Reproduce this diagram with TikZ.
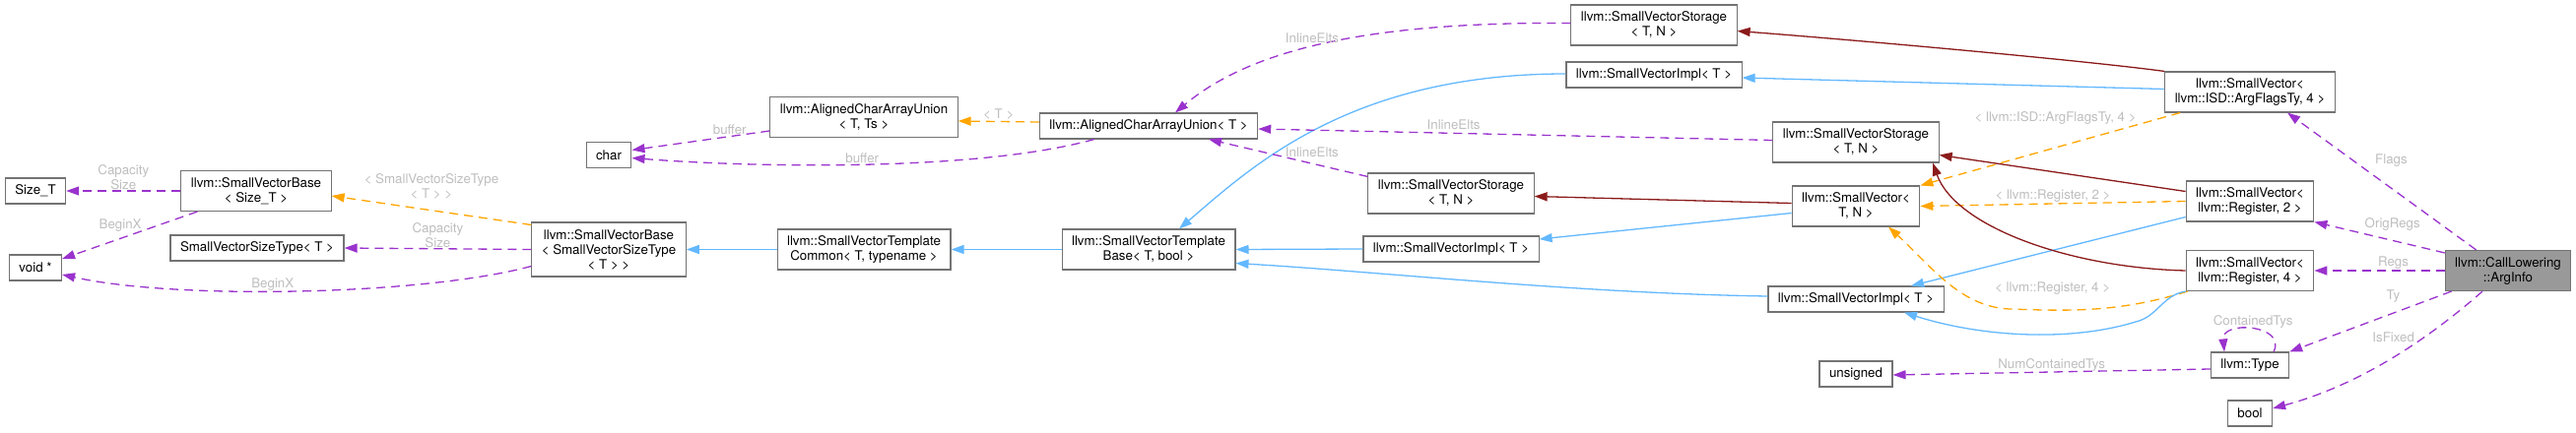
\documentclass[tikz,border=0pt]{standalone}
\usepackage{fontspec}
\setmainfont{TeX Gyre Heros}
\usepackage{tikz}
\usetikzlibrary{arrows.meta, calc}
\definecolor{usagecol}{HTML}{9A32CD}
\definecolor{tmplcol}{HTML}{FFA500}
\definecolor{pubcol}{HTML}{63B8FF}
\definecolor{privcol}{HTML}{8B1A1A}
\definecolor{lblcol}{HTML}{BEBEBE}

\begin{document}
\begin{tikzpicture}[
    x=1pt, y=-1pt, font=\fontsize{13.3pt}{15pt}\selectfont,
    cls/.style={draw=black!55, line width=1.1pt, fill=white, align=center, inner xsep=10pt, inner ysep=3pt, minimum height=26pt},
    tall2/.style={minimum height=41pt},
    tall3/.style={minimum height=55pt},
    usage/.style={->, usagecol, line width=1.3pt, dash pattern=on 9pt off 6pt},
    tmpl/.style={->, tmplcol, line width=1.3pt, dash pattern=on 9pt off 6pt},
    pubinh/.style={->, pubcol, line width=1.3pt},
    privinh/.style={->, privcol, line width=1.3pt},
    lbl/.style={text=lblcol, align=center, inner sep=1pt},
    >={Triangle[length=13pt, width=9pt]}]
\useasboundingbox (0,0) rectangle (2615,439);
% left part
\node[cls] (sizeT) at (36,194) {Size\_T};
\node[cls] (voidp) at (36,272) {void *};
\node[cls, tall2] (svbSize) at (260,194) {llvm::SmallVectorBase\\< Size\_T >};
\node[cls] (svsType) at (261,252) {SmallVectorSizeType< T >};
\node[cls, tall3] (svbSType) at (618,253.5) {llvm::SmallVectorBase\\< SmallVectorSizeType\\< T > >};
\node[cls] (chr) at (618,157.5) {char};
\node[cls, tall2] (acauTs) at (877,119) {llvm::AlignedCharArrayUnion\\< T, Ts >};
\node[cls, tall2] (svtCommon) at (877,253.5) {llvm::SmallVectorTemplate\\Common< T, typename >};
\node[cls] (acau) at (1166,128) {llvm::AlignedCharArrayUnion< T >};
\node[cls, tall2] (svtBase) at (1166,253.5) {llvm::SmallVectorTemplate\\Base< T, bool >};
% middle part
\node[cls, tall2] (svsMid) at (1473,196.5) {llvm::SmallVectorStorage\\< T, N >};
\node[cls] (sviMid) at (1473,253) {llvm::SmallVectorImpl< T >};
\node[cls, tall2] (svsTop) at (1679,25.5) {llvm::SmallVectorStorage\\< T, N >};
\node[cls] (sviTop) at (1679,76) {llvm::SmallVectorImpl< T >};
\node[cls, tall2] (svsRight) at (1884,144.5) {llvm::SmallVectorStorage\\< T, N >};
\node[cls, tall2] (svTN) at (1884,209.5) {llvm::SmallVector<\\T, N >};
\node[cls] (sviBot) at (1884,304) {llvm::SmallVectorImpl< T >};
\node[cls] (unsignedT) at (1884,380) {unsigned};
% right part
\node[cls, tall2] (svArg) at (2284,93.5) {llvm::SmallVector<\\ llvm::ISD::ArgFlagsTy, 4 >};
\node[cls, tall2] (svReg2) at (2284,204.5) {llvm::SmallVector<\\llvm::Register, 2 >};
\node[cls, tall2] (svReg4) at (2284,275) {llvm::SmallVector<\\llvm::Register, 4 >};
\node[cls] (type) at (2284,371) {llvm::Type};
\node[cls] (boolT) at (2284,420) {bool};
\node[cls, tall2, fill=black!40] (argInfo) at (2546,275) {llvm::CallLowering\\::ArgInfo};
% members and bases
\draw[usage] (svbSize.west) -- (sizeT.east) node[lbl, midway, anchor=south]{Capacity\\Size};
\draw[usage] ($(svbSize.south west)+(17,0)$) -- ($(voidp.east)+(0,-9)$) node[lbl, pos=0.57, anchor=south, yshift=5pt]{BeginX};
\draw[usage] ($(svbSType.west)+(0,17)$) .. controls (430,300) and (180,305) .. ($(voidp.east)+(0,7)$) node[lbl, pos=0.55, anchor=south, inner sep=0pt]{BeginX};
\draw[usage] (svbSType.west) -- (svsType.east) node[lbl, midway, anchor=south, inner sep=0pt]{Capacity\\Size};
\draw[tmpl] ($(svbSType.west)+(0,-25)$) -- ($(svbSize.east)+(0,5)$) node[lbl, midway, anchor=south, yshift=10pt]{< SmallVectorSizeType\\< T > >};
\draw[pubinh] (svtCommon.west) -- (svbSType.east);
\draw[pubinh] (svtBase.west) -- (svtCommon.east);
\draw[usage] ($(acauTs.west)+(0,14)$) -- ($(chr.east)+(0,-5)$) node[lbl, pos=0.29, anchor=south]{buffer};
\draw[usage] ($(acau.south west)+(56,0)$) .. controls (990,175) and (760,170) .. ($(chr.east)+(0,3)$) node[lbl, pos=0.5, anchor=south]{buffer};
\draw[tmpl] ($(acau.west)+(0,-4)$) -- ($(acauTs.east)+(0,4)$) node[lbl, midway, anchor=south]{< T >};
\draw[usage] ($(svsTop.west)+(0,-2)$) .. controls (1390,22) and (1270,50) .. ($(acau.north)+(27,0)$) node[lbl, pos=0.5, anchor=south, inner sep=0pt, xshift=-14pt]{InlineElts};
\draw[pubinh] ($(sviTop.west)+(0,-1)$) .. controls (1370,75) and (1270,170) .. ($(svtBase.north)+(31,0)$);
\draw[usage] ($(svsRight.west)+(0,-2)$) -- ($(acau.east)+(0,3)$) node[lbl, pos=0.62, anchor=south, yshift=2pt]{InlineElts};
\draw[usage] ($(svsMid.north west)+(0,4)$) -- ($(acau.south)+(61,0)$) node[lbl, pos=0.35, anchor=south, yshift=5pt]{InlineElts};
\draw[pubinh] (sviMid.west) -- (svtBase.east);
\draw[pubinh] ($(sviBot.west)+(0,-3)$) .. controls (1600,298) and (1400,276) .. ($(svtBase.east)+(0,14)$);
\draw[privinh] ($(svTN.west)+(0,-3)$) -- ($(svsMid.east)+(0,3)$);
\draw[pubinh] ($(svTN.west)+(0,7)$) -- ($(sviMid.east)+(0,-10)$);
\draw[privinh] (svArg.north west) .. controls (2120,62) and (1900,42) .. ($(svsTop.east)+(0,6)$);
\draw[pubinh] ($(svArg.west)+(0,-3)$) -- ($(sviTop.east)+(0,3)$);
\draw[tmpl] ($(svArg.south west)+(16,0)$) -- (svTN.north east) node[lbl, pos=0.48, anchor=south, yshift=22pt]{< llvm::ISD::ArgFlagsTy, 4 >};
\draw[privinh] ($(svReg2.west)+(0,-10)$) -- ($(svsRight.east)+(0,13)$);
\draw[tmpl] (svReg2.west) -- (svTN.east) node[lbl, midway, anchor=south]{< llvm::Register, 2 >};
\draw[pubinh] ($(svReg2.west)+(0,16)$) -- ($(sviBot.north)+(56,0)$);
\draw[privinh] (svReg4.west) .. controls (2100,272) and (1985,230) .. ($(svsRight.south)+(78,0)$);
\draw[tmpl] ($(svReg4.south west)+(2,0)$) .. controls (2150,318) and (2100,316) .. (2040,314) node[lbl, pos=0.75, anchor=south, yshift=14pt]{< llvm::Register, 4 >} .. controls (1990,312) and (1960,270) .. ($(svTN.south)+(33,0)$);
\draw[pubinh] (svReg4.south west) .. controls (2195,300) and (2190,322) .. (2168,327) .. controls (2100,348) and (2010,342) .. ($(sviBot.south)+(49,0)$);
% ArgInfo members
\draw[usage] ($(argInfo.north west)+(32,0)$) -- ($(svArg.south)+(38,0)$) node[lbl, pos=0.45, anchor=south, yshift=20pt]{Flags};
\draw[usage] ($(argInfo.north west)+(0,3)$) -- (svReg2.south east) node[lbl, pos=0.4, anchor=south, yshift=8pt]{OrigRegs};
\draw[usage] (argInfo.west) -- (svReg4.east) node[lbl, midway, anchor=south, xshift=14pt]{Regs};
\draw[usage] ($(argInfo.south west)+(7,0)$) -- (type.north east) node[lbl, pos=0.36, anchor=south, yshift=9pt]{Ty};
\draw[usage] ($(type.north)+(24,0)$) .. controls (2322,330) and (2255,325) .. ($(type.north)+(-26,0)$) node[lbl, pos=0.5, anchor=south]{ContainedTys};
\draw[usage] ($(type.west)+(0,4)$) -- ($(unsignedT.east)+(0,1)$) node[lbl, midway, anchor=south, inner sep=0pt]{NumContainedTys};
\draw[usage] ($(argInfo.south)+(-26,0)$) .. controls (2470,340) and (2400,390) .. ($(boolT.east)+(0,-5)$) node[lbl, pos=0.5, anchor=south, yshift=13pt]{IsFixed};
\end{tikzpicture}
\end{document}
